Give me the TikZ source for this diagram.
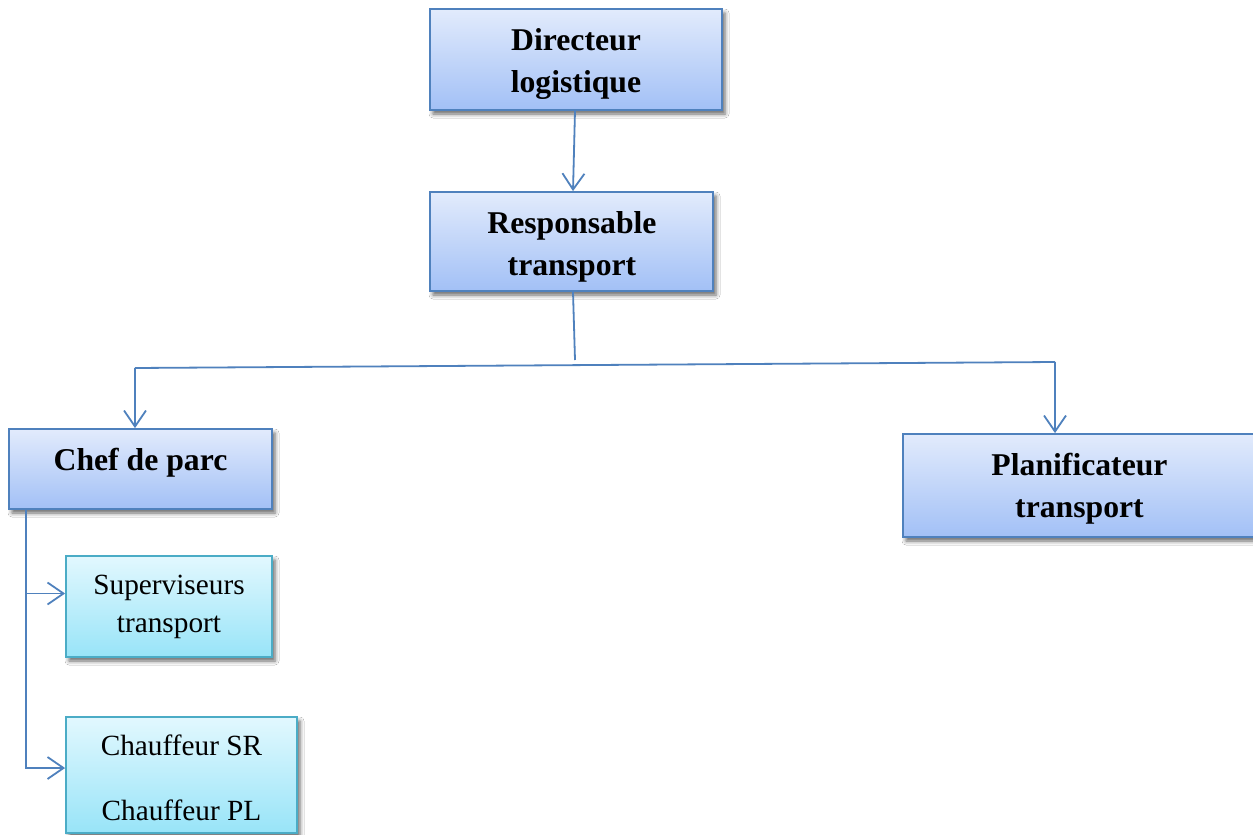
\documentclass[tikz,border=0pt]{standalone}
\usepackage{fontspec}
\setmainfont{Liberation Serif}
\usetikzlibrary{arrows.meta,shadows.blur}
\definecolor{blueline}{RGB}{79,129,189}
\definecolor{bluetop}{RGB}{226,235,252}
\definecolor{bluebot}{RGB}{162,192,246}
\definecolor{cyanline}{RGB}{75,172,198}
\definecolor{cyantop}{RGB}{226,248,254}
\definecolor{cyanbot}{RGB}{152,228,248}
\tikzset{
  basebox/.style={rectangle, draw, line width=1.8pt, inner sep=0pt,
    blur shadow={shadow xshift=3pt, shadow yshift=-4pt, shadow blur radius=4pt, shadow opacity=60}},
  headbox/.style={basebox, draw=blueline, top color=bluetop, bottom color=bluebot},
  subbox/.style={basebox, draw=cyanline, top color=cyantop, bottom color=cyanbot},
  headtext/.style={inner sep=0pt, align=center, font=\fontsize{31.7}{42}\selectfont\bfseries},
  subtext/.style={inner sep=0pt, align=center, font=\fontsize{29.3}{38}\selectfont},
  conn/.style={draw=blueline, line width=1.8pt},
  arr/.style={conn, -{Straight Barb[length=16pt,width=22pt,line width=1.8pt]}}
}
\begin{document}
\begin{tikzpicture}[x=1pt,y=-1pt]
\useasboundingbox (0,0) rectangle (1253,835);
\clip (0,0) rectangle (1253,835);
\fill[white] (0,0) rectangle (1253,835);

% boxes
\node[headbox, minimum width=292pt, minimum height=101pt] (dir) at (576,59.5) {};
\node[headbox, minimum width=283pt, minimum height=99pt] (resp) at (571.5,241.5) {};
\node[headbox, minimum width=263pt, minimum height=80pt] (chef) at (140.5,469) {};
\node[headbox, minimum width=353pt, minimum height=103pt] (plan) at (1079.5,485.5) {};
\node[subbox, minimum width=206pt, minimum height=101pt] (sup) at (169,606.5) {};
\node[subbox, minimum width=231pt, minimum height=116pt] (chauf) at (181.5,775) {};

% box texts
\node[headtext] (dirT) at (576,63.5) {Directeur\\logistique};
\node[headtext] (respT) at (572,246.5) {Responsable\\transport};
\node[headtext] (chefT) at (140.5,463) {Chef de parc};
\node[headtext] (planT) at (1079.5,488.5) {Planificateur\\transport};
\node[subtext] (supT) at (169,607) {Superviseurs\\transport};
\node[subtext] (chaufT) at (181.5,777.5) {Chauffeur SR\\[27pt]Chauffeur PL};

% connectors
\draw[arr] ([xshift=-1pt]dir.south) -- ([xshift=1.5pt]resp.north);
\coordinate (jM) at (575,360);
\coordinate (jL) at (135,368);
\coordinate (jR) at (1055,362);
\draw[conn] ([xshift=1.5pt]resp.south) -- (jM);
\draw[conn] (jL) -- (jR);
\draw[arr] (jL) -- (jL |- chef.north);
\draw[arr] (jR) -- (jR |- plan.north);

\coordinate (cs) at ([xshift=18pt]chef.south west);
\draw[arr] (cs) |- ([yshift=13pt]sup.west);
\draw[arr] (cs) |- ([yshift=7pt]chauf.west);
\end{tikzpicture}
\end{document}
